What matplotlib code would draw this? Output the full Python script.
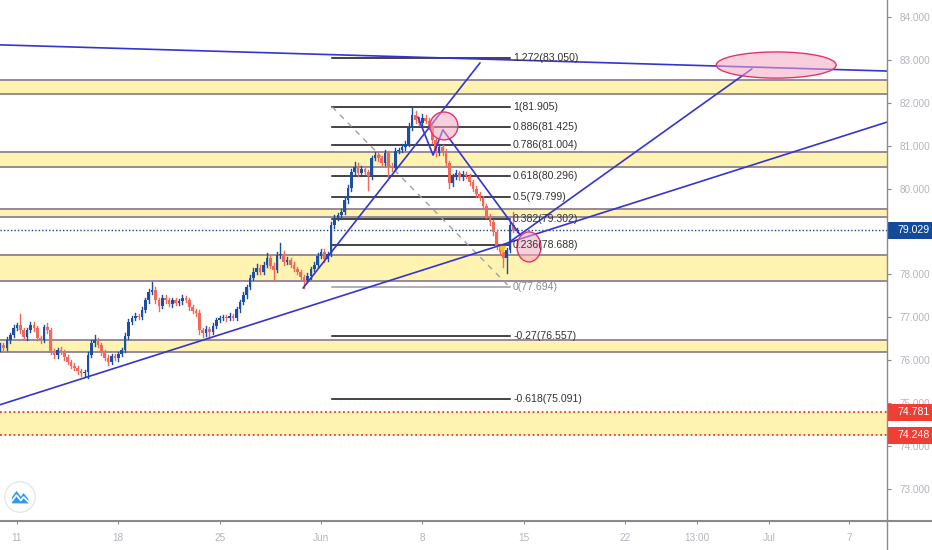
import matplotlib
matplotlib.use('Agg')
import matplotlib.pyplot as plt
import matplotlib.transforms as mtransforms
from matplotlib.patches import Ellipse, Rectangle, Circle, Polygon
from matplotlib.lines import Line2D

plt.rcParams['font.family'] = ['Liberation Sans', 'DejaVu Sans']

# ---------------------------------------------------------------------------
# Data (4H candles, index 0 = May 11 00:00)
# ---------------------------------------------------------------------------
first_index = -5
first_open = 76.28
closes = [
    76.35, 76.28, 76.47, 76.59, 76.75, 76.82, 76.70, 76.54, 76.70, 76.82,
    76.75, 76.52, 76.47, 76.77, 76.70, 76.19, 76.12, 76.24, 76.19, 76.07,
    75.96, 75.87, 75.82, 75.75, 75.70, 75.73, 76.12, 76.40, 76.47, 76.35,
    76.19, 76.05, 75.96, 76.10, 76.05, 76.14, 76.24, 76.56, 76.89, 76.98,
    77.03, 77.01, 77.17, 77.40, 77.59, 77.64, 77.40, 77.26, 77.45, 77.40,
    77.31, 77.40, 77.33, 77.38, 77.45, 77.40, 77.24, 77.15, 77.10, 76.70,
    76.63, 76.73, 76.66, 76.80, 76.94, 76.98, 77.01, 76.98, 77.03, 76.98,
    77.19, 77.36, 77.52, 77.71, 77.92, 78.06, 78.15, 78.06, 78.22, 78.38,
    78.20, 78.10, 78.45, 78.48, 78.29, 78.34, 78.22, 78.13, 78.06, 77.94,
    77.87, 77.96, 78.13, 78.22, 78.43, 78.52, 78.36, 78.48, 79.15, 79.31,
    79.38, 79.45, 79.73, 80.01, 80.39, 80.50, 80.36, 80.46, 80.39, 80.29,
    80.71, 80.78, 80.71, 80.60, 80.83, 80.53, 80.48, 80.88, 80.90, 80.97,
    81.04, 81.44, 81.72, 81.60, 81.53, 81.65, 81.58, 81.46, 81.13, 80.83,
    80.97, 80.85, 80.60, 80.13, 80.27, 80.36, 80.27, 80.34, 80.29, 80.15,
    79.99, 79.87, 79.78, 79.59, 79.36, 79.22, 78.99, 78.66, 78.52, 78.38,
    78.57, 79.15, 79.03, 79.03,
]
up_wick = [
    0.05, 0.04, 0.06, 0.05, 0.08, 0.05, 0.25, 0.06, 0.05, 0.07,
    0.06, 0.04, 0.05, 0.06, 0.10, 0.05, 0.06, 0.05, 0.07, 0.04,
    0.05, 0.04, 0.06, 0.05, 0.04, 0.05, 0.06, 0.08, 0.12, 0.05,
    0.04, 0.05, 0.06, 0.05, 0.04, 0.06, 0.05, 0.07, 0.06, 0.05,
    0.08, 0.05, 0.06, 0.05, 0.07, 0.18, 0.06, 0.05, 0.07, 0.06,
    0.05, 0.06, 0.04, 0.05, 0.07, 0.05, 0.06, 0.05, 0.04, 0.06,
    0.05, 0.06, 0.04, 0.07, 0.05, 0.06, 0.05, 0.04, 0.06, 0.05,
    0.06, 0.05, 0.07, 0.05, 0.06, 0.08, 0.10, 0.06, 0.07, 0.12,
    0.05, 0.06, 0.08, 0.25, 0.06, 0.07, 0.05, 0.06, 0.05, 0.04,
    0.05, 0.06, 0.05, 0.07, 0.06, 0.08, 0.06, 0.05, 0.06, 0.08,
    0.06, 0.07, 0.05, 0.08, 0.06, 0.12, 0.10, 0.06, 0.07, 0.05,
    0.06, 0.08, 0.07, 0.06, 0.08, 0.05, 0.06, 0.07, 0.05, 0.06,
    0.08, 0.10, 0.19, 0.08, 0.06, 0.09, 0.07, 0.06, 0.10, 0.05,
    0.06, 0.05, 0.07, 0.05, 0.06, 0.07, 0.05, 0.06, 0.04, 0.05,
    0.05, 0.06, 0.04, 0.05, 0.06, 0.05, 0.04, 0.05, 0.04, 0.05,
    0.05, 0.08, 0.30, 0.06,
]
down_wick = [
    0.06, 0.05, 0.04, 0.06, 0.05, 0.04, 0.06, 0.05, 0.07, 0.05,
    0.06, 0.05, 0.08, 0.05, 0.06, 0.05, 0.07, 0.06, 0.05, 0.06,
    0.05, 0.06, 0.05, 0.07, 0.06, 0.07, 0.15, 0.05, 0.06, 0.05,
    0.06, 0.05, 0.08, 0.06, 0.05, 0.06, 0.05, 0.04, 0.06, 0.05,
    0.05, 0.06, 0.05, 0.04, 0.06, 0.05, 0.07, 0.12, 0.05, 0.06,
    0.05, 0.06, 0.05, 0.04, 0.06, 0.05, 0.07, 0.05, 0.06, 0.08,
    0.10, 0.06, 0.19, 0.05, 0.06, 0.05, 0.04, 0.06, 0.05, 0.04,
    0.05, 0.06, 0.05, 0.06, 0.04, 0.05, 0.06, 0.05, 0.06, 0.05,
    0.06, 0.23, 0.05, 0.06, 0.07, 0.05, 0.06, 0.05, 0.06, 0.07,
    0.18, 0.05, 0.06, 0.05, 0.06, 0.05, 0.07, 0.06, 0.05, 0.06,
    0.05, 0.06, 0.05, 0.07, 0.06, 0.05, 0.06, 0.07, 0.05, 0.32,
    0.06, 0.05, 0.07, 0.06, 0.05, 0.26, 0.06, 0.05, 0.06, 0.05,
    0.06, 0.05, 0.07, 0.06, 0.05, 0.06, 0.05, 0.06, 0.07, 0.06,
    0.05, 0.06, 0.05, 0.12, 0.06, 0.05, 0.06, 0.07, 0.05, 0.06,
    0.05, 0.06, 0.05, 0.06, 0.05, 0.06, 0.07, 0.06, 0.08, 0.21,
    0.35, 0.06, 0.05, 0.05,
]

# support / resistance zones (low, high)
zones = [(82.21, 82.53), (80.50, 80.85), (79.34, 79.52), (77.85, 78.45), (76.19, 76.47)]
alert_prices = [74.781, 74.248]
last_price = 79.029

# fibonacci retracement
fib_ratios = ['1.618', '1.272', '1', '0.886', '0.786', '0.618', '0.5', '0.382', '0.236', '0', '-0.27', '-0.618']
fib_prices = [84.507, 83.050, 81.905, 81.425, 81.004, 80.296, 79.799, 79.302, 78.688, 77.694, 76.557, 75.091]
fib_start, fib_end = 93.3, 146.0

# trend lines (x = candle index, y = price)
trend_lines = [
    ([-5.03, 257.6], [83.35, 82.74]),
    ([-5.03, 257.6], [74.96, 81.55]),
    ([84.7, 137.1], [77.68, 82.93]),
    ([118.7, 123.2, 126.1, 149.0], [81.67, 80.78, 81.37, 78.92]),
    ([145.4, 217.6], [78.73, 82.79]),
]
# highlight ellipses (center x, center y, width, height)
highlights = [(126.4, 81.46, 8.3, 0.65), (151.6, 78.64, 7.1, 0.70), (224.8, 82.88, 35.5, 0.61)]

price_ticks = [73, 74, 75, 76, 77, 78, 79, 80, 81, 82, 83, 84]
time_ticks = [0, 30, 60, 90, 120, 150, 180, 201.4, 222.7, 246.4]
time_labels = ['11', '18', '25', 'Jun', '8', '15', '22', '13:00', 'Jul', '7']

# ---------------------------------------------------------------------------
# Figure
# ---------------------------------------------------------------------------
W, H = 932, 550
fig = plt.figure(figsize=(W / 100, H / 100), dpi=100)
fig.patch.set_facecolor('white')
ax = fig.add_axes([0, 29 / H, 887 / W, 521 / H])
ax.set_xlim(-5.03, 257.6)
ax.set_ylim(72.25, 84.396)
for s in ax.spines.values():
    s.set_visible(False)

# zones
for lo, hi in zones:
    ax.axhspan(lo, hi, color='#fff3b2', zorder=1, lw=0)
    ax.axhline(lo, color='#978a95', lw=1.4, zorder=1.2)
    ax.axhline(hi, color='#978a95', lw=1.4, zorder=1.2)
ax.axhspan(alert_prices[1], alert_prices[0], color='#fff3b2', zorder=1, lw=0)
for p in alert_prices:
    ax.axhline(p, color='#e53935', lw=1.3, ls=(0, (1, 1.5)), zorder=1.3)
ax.axhline(last_price, color='#1f3f8f', lw=1.0, ls=(0, (1, 1.5)), zorder=1.3)

# fibonacci
for r, p in zip(fib_ratios, fib_prices):
    col = '#9a9a9a' if r == '0' else '#111111'
    ax.plot([fib_start, fib_end], [p, p], color=col, lw=1.1, zorder=2)
    ax.text(fib_end + 0.9, p, r + '(' + format(p, '.3f') + ')', color='#8a8a8a' if r == '0' else '#333333',
            fontsize=7.6, va='center', ha='left', zorder=5, clip_on=True)
ax.plot([fib_start, fib_end], [fib_prices[2], fib_prices[9]], color='#a0a0a0', lw=1, ls=(0, (4, 4)), zorder=2)

# candles
opens = [first_open] + closes[:-1]
for k in range(len(closes)):
    x = first_index + k
    o, c = opens[k], closes[k]
    col = '#1c4fa3' if c >= o else '#f2695c'
    ax.plot([x, x], [min(o, c) - down_wick[k], max(o, c) + up_wick[k]], color=col, lw=1, zorder=3)
    ax.bar(x, max(abs(c - o), 0.03), bottom=min(o, c), width=0.78, color=col, lw=0, zorder=3.1)
ax.plot([143.6], [78.59], marker='v', color='#f5c21b', markersize=4.5, zorder=3.5)

# drawings
for xs, ys in trend_lines:
    ax.plot(xs, ys, color='#3434d4', lw=1.2, zorder=4, solid_capstyle='round')
for cx, cy, w, h in highlights:
    ax.add_patch(Ellipse((cx, cy), w, h, facecolor='#f7a8c2', alpha=0.55, edgecolor='none', zorder=4.2))
    ax.add_patch(Ellipse((cx, cy), w, h, facecolor='none', edgecolor='#e2346c', lw=1, zorder=4.3))

# axes ticks (79.000 is hidden under the last-price label)
ax.yaxis.tick_right()
ax.set_yticks(price_ticks)
ax.set_yticklabels(['' if p == 79 else format(p, '.3f') for p in price_ticks])
ax.tick_params(axis='y', length=3, width=0.8, color='#8a8a8a', pad=6, labelsize=7.2, labelcolor='#b2b5be')
ax.set_xticks(time_ticks)
ax.set_xticklabels(time_labels)
ax.tick_params(axis='x', length=2.5, width=0.8, color='#8a8a8a', pad=6, labelsize=7.2, labelcolor='#b2b5be')

fig.add_artist(Line2D([0, 1], [29 / H, 29 / H], transform=fig.transFigure, color='#8a8a8a', lw=1.5))
fig.add_artist(Line2D([887 / W, 887 / W], [0, 1], transform=fig.transFigure, color='#8a8a8a', lw=1))

# price labels on axis
trans = mtransforms.blended_transform_factory(ax.transAxes, ax.transData)
for p, col in [(last_price, '#134a9c'), (alert_prices[0], '#ef3e33'), (alert_prices[1], '#ef3e33')]:
    ax.add_patch(Rectangle((1.0, p - 0.2), 46 / 887, 0.40, transform=trans, facecolor=col,
                           edgecolor='none', clip_on=False, zorder=6))
    ax.text(1.0 + 10 / 887, p, format(p, '.3f'), transform=trans, color='white', fontsize=7.6,
            va='center', ha='left', clip_on=False, zorder=7)

# logo
lax = fig.add_axes([4 / W, (550 - 513) / H, 32 / W, 32 / H])
lax.set_xlim(-1, 1)
lax.set_ylim(-1, 1)
lax.set_aspect('equal')
lax.axis('off')
lax.add_patch(Circle((0, 0), 0.95, facecolor='white', edgecolor='#e3e6ea', lw=1))
lax.add_patch(Polygon([(-0.5, -0.4), (-0.5, 0.0), (-0.22, 0.38), (0.05, 0.02), (0.22, 0.25),
                       (0.52, -0.12), (0.52, -0.4)], closed=True, facecolor='#2c9cf2', edgecolor='none'))
lax.plot([-0.5, -0.22, 0.05, 0.22, 0.52], [-0.25, 0.12, -0.22, 0.0, -0.3], color='white', lw=1.2)

fig.savefig('out.png', dpi=100, facecolor='white')
